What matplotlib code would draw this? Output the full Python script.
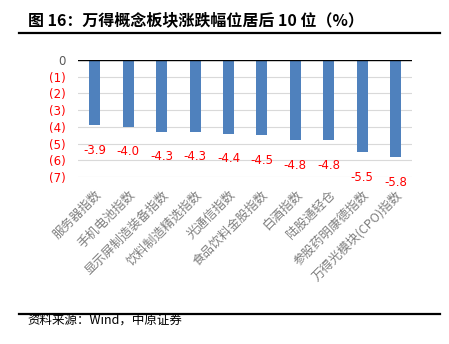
import matplotlib
matplotlib.use('Agg')
import matplotlib.pyplot as plt

plt.rcParams['font.family'] = ['Noto Sans CJK SC', 'DejaVu Sans']

names = ["服务器指数", "手机电池指数", "显示屏制造装备指数", "饮料制造精选指数",
         "光通信指数", "食品饮料金股指数", "白酒指数", "陆股通轻仓",
         "参股药明康德指数", "万得光模块(CPO)指数"]
changes = [-3.9, -4.0, -4.3, -4.3, -4.4, -4.5, -4.8, -4.8, -5.5, -5.8]
yticks = [0, -1, -2, -3, -4, -5, -6, -7]
ytick_labels = ["0", "(1)", "(2)", "(3)", "(4)", "(5)", "(6)", "(7)"]

fig = plt.figure(figsize=(4.49, 3.44), dpi=100)
ax = fig.add_axes([0.174, 0.485, 0.744, 0.341])

x = list(range(len(names)))
ax.bar(x, changes, width=0.33, color="#4f81bd", zorder=3)
for xi, v in zip(x, changes):
    ax.annotate("%.1f" % v, (xi, v), xytext=(0, -18), textcoords="offset points",
                ha="center", va="center", color="red", fontsize=8.5,
                family="DejaVu Sans")

ax.set_ylim(-7, 0)
ax.set_xlim(-0.5, len(names) - 0.5)
ax.set_yticks(yticks)
ax.set_yticklabels(ytick_labels, family="DejaVu Sans", fontsize=8.5)
for lbl, v in zip(ax.get_yticklabels(), yticks):
    lbl.set_color("#595959" if v == 0 else "red")
ax.yaxis.grid(True, color="#d9d9d9", lw=0.8, zorder=0)
ax.axhline(0, color="black", lw=1.0, zorder=4)

ax.set_xticks(x)
ax.set_xticklabels(names, rotation=45, ha="right", rotation_mode="anchor",
                   fontsize=9, color="#7f7f7f")
ax.tick_params(axis="both", length=0)
ax.tick_params(axis="x", pad=8)
ax.tick_params(axis="y", pad=9)
for s in ax.spines.values():
    s.set_visible(False)

# header / footer rules and captions
fig.text(0.062, 0.942, "图 16：万得概念板块涨跌幅位居后 10 位（%）", fontsize=11.5,
         fontweight="bold", ha="left", va="center")
fig.add_artist(plt.Line2D([0.043, 0.98], [0.904, 0.904], color="black", lw=1.6))
fig.add_artist(plt.Line2D([0.043, 0.98], [0.087, 0.087], color="black", lw=1.6))
fig.text(0.062, 0.068, "资料来源：Wind，中原证券", fontsize=9, ha="left", va="center")

fig.savefig("out.png", dpi=100)
